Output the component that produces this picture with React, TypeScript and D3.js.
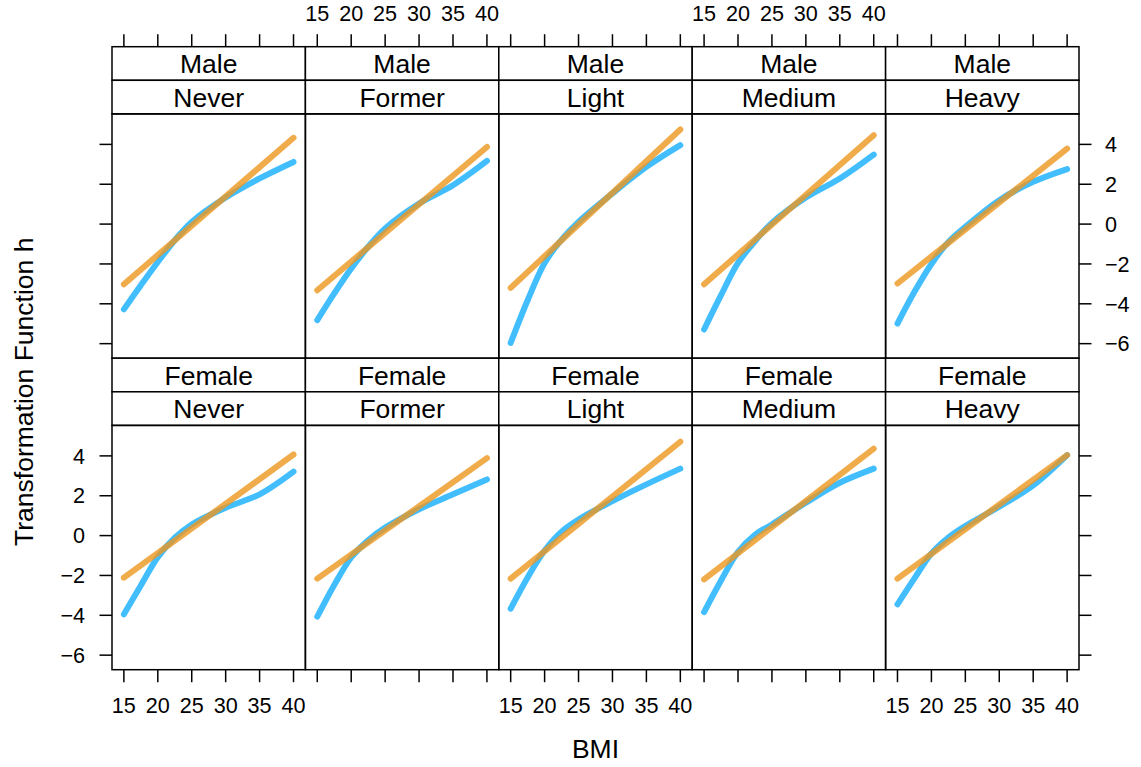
import React from "react";
import * as d3 from "d3";

const sexes = ["Male", "Female"];
const smoking = ["Never", "Former", "Light", "Medium", "Heavy"];
const xTicks = [15, 20, 25, 30, 35, 40];
const yTicks = [-6, -4, -2, 0, 2, 4];

// BMI grid for the smooth (blue) transformation function
const bmiGrid = [15, 17.5, 20, 22.5, 25, 30, 35, 40];
// BMI endpoints for the linear (orange) transformation function
const bmiEnds = [15, 40];

// Blue (non-linear) transformation functions
const maleNever = [-4.28, -3.07, -1.9, -0.81, 0.11, 1.33, 2.29, 3.12];
const maleFormer = [-4.82, -3.48, -2.23, -1.14, -0.22, 1.03, 1.95, 3.17];
const maleLight = [-5.96, -3.82, -1.95, -0.78, 0.11, 1.54, 2.87, 3.96];
const maleMedium = [-5.29, -3.57, -1.95, -0.86, 0.06, 1.33, 2.29, 3.49];
const maleHeavy = [-4.99, -3.4, -2.0, -0.9, -0.14, 1.2, 2.12, 2.76];
const femaleNever = [-3.95, -2.5, -1.08, -0.11, 0.56, 1.4, 2.07, 3.21];
const femaleFormer = [-4.07, -2.48, -1.1, -0.24, 0.4, 1.32, 2.07, 2.82];
const femaleLight = [-3.67, -2.1, -0.75, 0.2, 0.81, 1.73, 2.57, 3.36];
const femaleMedium = [-3.84, -2.25, -0.82, 0.04, 0.56, 1.65, 2.65, 3.36];
const femaleHeavy = [-3.45, -2.15, -0.9, -0.1, 0.48, 1.45, 2.52, 4.04];

// Orange (linear) transformation functions
const maleNeverLin = [-3.02, 4.33];
const maleFormerLin = [-3.32, 3.87];
const maleLightLin = [-3.2, 4.75];
const maleMediumLin = [-3.02, 4.46];
const maleHeavyLin = [-2.98, 3.79];
const femaleNeverLin = [-2.11, 4.07];
const femaleFormerLin = [-2.16, 3.89];
const femaleLightLin = [-2.16, 4.71];
const femaleMediumLin = [-2.2, 4.36];
const femaleHeavyLin = [-2.16, 4.04];

const smoothCurves = [
  [maleNever, maleFormer, maleLight, maleMedium, maleHeavy],
  [femaleNever, femaleFormer, femaleLight, femaleMedium, femaleHeavy],
];
const linearCurves = [
  [maleNeverLin, maleFormerLin, maleLightLin, maleMediumLin, maleHeavyLin],
  [femaleNeverLin, femaleFormerLin, femaleLightLin, femaleMediumLin, femaleHeavyLin],
];

const W = 1141;
const H = 767;
const left0 = 112;
const colW = 193.4;
const stripH = 33.6;
const panelH = 244.3;
const topStrip = 46.7;
const FONT = "'Liberation Sans', Arial, Helvetica, sans-serif";
const BLUE = "rgb(66,190,255)";
const ORANGE = "rgb(236,150,30)";

export default function App() {
  const x = d3.scaleLinear().domain([13.25, 41.75]).range([0, colW]);
  const y = d3.scaleLinear().domain([-6.73, 5.53]).range([panelH, 0]);
  const line = d3
    .line<[number, number]>()
    .x((d) => x(d[0]))
    .y((d) => y(d[1]))
    .curve(d3.curveCatmullRom.alpha(0.5));
  const straight = d3
    .line<[number, number]>()
    .x((d) => x(d[0]))
    .y((d) => y(d[1]));

  const rowStripTop = (r: number) => topStrip + r * (2 * stripH + panelH);
  const rowPanelTop = (r: number) => rowStripTop(r) + 2 * stripH;
  const gridTop = topStrip;
  const gridBottom = rowPanelTop(1) + panelH;
  const tickLen = 12.5;
  const fmt = (v: number) => (v < 0 ? "\u2212" + Math.abs(v) : String(v));

  const elems: React.ReactNode[] = [];

  sexes.forEach((sex, r) => {
    smoking.forEach((sm, c) => {
      const lx = left0 + c * colW;
      const st = rowStripTop(r);
      const pt = rowPanelTop(r);
      const blue: [number, number][] = bmiGrid.map((b, i) => [b, smoothCurves[r][c][i]]);
      const orange: [number, number][] = bmiEnds.map((b, i) => [b, linearCurves[r][c][i]]);
      elems.push(
        <g key={`p-${r}-${c}`}>
          <rect x={lx} y={st} width={colW} height={stripH} fill="white" stroke="black" strokeWidth={1.5} />
          <text x={lx + colW / 2} y={st + stripH / 2 + 9.6} textAnchor="middle" fontSize={26.5} fontFamily={FONT}>
            {sex}
          </text>
          <rect x={lx} y={st + stripH} width={colW} height={stripH} fill="white" stroke="black" strokeWidth={1.5} />
          <text x={lx + colW / 2} y={st + 1.5 * stripH + 9.6} textAnchor="middle" fontSize={26.5} fontFamily={FONT}>
            {sm}
          </text>
          <g transform={`translate(${lx},${pt})`}>
            <path d={line(blue) || ""} fill="none" stroke={BLUE} strokeWidth={6} strokeLinecap="round" strokeLinejoin="round" />
            <path d={straight(orange) || ""} fill="none" stroke={ORANGE} strokeOpacity={0.8} strokeWidth={6} strokeLinecap="round" />
          </g>
          <rect x={lx} y={pt} width={colW} height={panelH} fill="none" stroke="black" strokeWidth={1.5} />
        </g>
      );
    });
  });

  // x axes (top and bottom)
  smoking.forEach((_, c) => {
    const lx = left0 + c * colW;
    xTicks.forEach((t) => {
      const px = lx + x(t);
      elems.push(
        <line key={`xt-${c}-${t}`} x1={px} x2={px} y1={gridTop} y2={gridTop - tickLen} stroke="black" strokeWidth={1.5} />,
        <line key={`xb-${c}-${t}`} x1={px} x2={px} y1={gridBottom} y2={gridBottom + tickLen} stroke="black" strokeWidth={1.5} />
      );
      if (c % 2 === 1) {
        elems.push(
          <text key={`xtl-${c}-${t}`} x={px} y={20.7} textAnchor="middle" fontSize={21.6} fontFamily={FONT}>
            {fmt(t)}
          </text>
        );
      } else {
        elems.push(
          <text key={`xbl-${c}-${t}`} x={px} y={713.3} textAnchor="middle" fontSize={21.6} fontFamily={FONT}>
            {fmt(t)}
          </text>
        );
      }
    });
  });

  // y axes (left and right)
  const rightX = left0 + 5 * colW;
  sexes.forEach((_, r) => {
    const pt = rowPanelTop(r);
    yTicks.forEach((t) => {
      const py = pt + y(t);
      elems.push(
        <line key={`yl-${r}-${t}`} x1={left0} x2={left0 - tickLen} y1={py} y2={py} stroke="black" strokeWidth={1.5} />,
        <line key={`yr-${r}-${t}`} x1={rightX} x2={rightX + tickLen} y1={py} y2={py} stroke="black" strokeWidth={1.5} />
      );
      if (r === 1) {
        elems.push(
          <text key={`yll-${r}-${t}`} x={85} y={py + 7.7} textAnchor="end" fontSize={21.6} fontFamily={FONT}>
            {fmt(t)}
          </text>
        );
      } else {
        elems.push(
          <text key={`yrl-${r}-${t}`} x={1105} y={py + 7.7} textAnchor="start" fontSize={21.6} fontFamily={FONT}>
            {fmt(t)}
          </text>
        );
      }
    });
  });

  return (
    <svg width={W} height={H} style={{ position: "absolute", left: 0, top: 0, background: "white" }}>
      <rect x={0} y={0} width={W} height={H} fill="white" />
      {elems}
      <text x={(left0 + rightX) / 2} y={758} textAnchor="middle" fontSize={26.5} fontFamily={FONT}>
        BMI
      </text>
      <text
        transform={`translate(33,${(rowPanelTop(0) + gridBottom) / 2}) rotate(-90)`}
        textAnchor="middle"
        fontSize={26.5}
        fontFamily={FONT}
      >
        Transformation Function h
      </text>
    </svg>
  );
}
